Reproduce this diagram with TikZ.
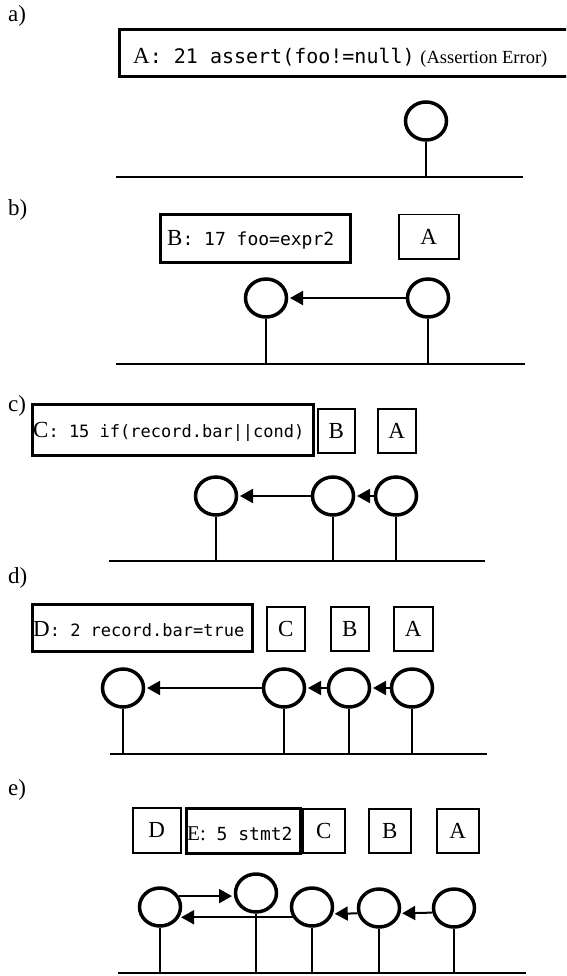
\documentclass[tikz,border=0pt]{standalone}
\usepackage{fontspec}
\setmainfont{Liberation Serif}
\newfontfamily\codefont{DejaVu Sans Mono}
\usetikzlibrary{arrows.meta,shapes.geometric,calc}

\newcommand{\fs}[1]{\fontsize{#1}{#1}\selectfont}

\tikzset{
  boldbox/.style={draw, line width=3pt, inner sep=0pt, anchor=north west},
  thinbox/.style={draw, line width=1.5pt, inner sep=0pt, anchor=north west, font=\fs{23}},
  txt/.style={inner sep=0pt, anchor=base west},
  tag/.style={inner sep=0pt, anchor=base west, font=\fs{23}},
  ring/.style={draw, ellipse, line width=3.5pt, minimum width=41pt, minimum height=38pt, inner sep=0pt},
  stem/.style={line width=2pt},
  ground/.style={line width=2.5pt},
  link/.style={line width=2pt, shorten >=1.75pt, -{Triangle[length=13pt,width=14pt]}},
}

\begin{document}
\begin{tikzpicture}[x=1pt,y=-1pt]
\useasboundingbox (0,0) rectangle (566,976);
\clip (0,0) rectangle (566,976);

% ---------------- a) ----------------
\node[tag] (la) at (8,22) {a)};
\node[boldbox, minimum width=470pt, minimum height=47pt] (boxA) at (118,28) {};
\node[txt, font=\fs{23}] (tA) at (133,64) {A{\codefont\fs{20}: 21 assert(foo!=null)} {\fs{18.5}(Assertion Error)}};
\node[ring] (a1) at (426,121) {};
\coordinate (aL) at (116,177);
\coordinate (aR) at (523,177);
\draw[ground] (aL) -- (aR);
\draw[stem] (a1.south) -- (a1.south |- aL);

% ---------------- b) ----------------
\node[tag] (lb) at (8,216) {b)};
\node[boldbox, minimum width=190pt, minimum height=48pt] (boxB) at (159,213) {};
\node[txt, font=\fs{23}] (tB) at (167,246) {B{\codefont\fs{18}: 17 foo=expr2}};
\node[thinbox, minimum width=60pt, minimum height=44pt] (bA) at (398,214) {A};
\node[ring] (b1) at (266,298) {};
\node[ring] (b2) at (428,298) {};
\coordinate (bL) at (116,364);
\coordinate (bR) at (525,364);
\draw[ground] (bL) -- (bR);
\draw[stem] (b1.south) -- (b1.south |- bL);
\draw[stem] (b2.south) -- (b2.south |- bL);
\draw[link] (b2.west) -- (b1.east);

% ---------------- c) ----------------
\node[tag] (lc) at (8,411) {c)};
\node[boldbox, minimum width=281pt, minimum height=51pt] (boxC) at (31,403) {};
\node[txt, font=\fs{23}] (tC) at (33,437) {C{\codefont\fs{17}: 15 if(record.bar||cond)}};
\node[thinbox, minimum width=37pt, minimum height=44pt] (cB) at (317,408) {B};
\node[thinbox, minimum width=38pt, minimum height=44pt] (cA) at (377,408) {A};
\node[ring] (c1) at (216,496) {};
\node[ring] (c2) at (333,496) {};
\node[ring] (c3) at (396,496) {};
\coordinate (cL) at (109,561);
\coordinate (cR) at (485,561);
\draw[ground] (cL) -- (cR);
\foreach \n in {c1,c2,c3} \draw[stem] (\n.south) -- (\n.south |- cL);
\draw[link] (c2.west) -- (c1.east);
\draw[link] (c3.west) -- (c2.east);

% ---------------- d) ----------------
\node[tag] (ld) at (8,583) {d)};
\node[boldbox, minimum width=220pt, minimum height=47pt] (boxD) at (31,603) {};
\node[txt, font=\fs{23}] (tD) at (33,636) {D{\codefont\fs{17}: 2 record.bar=true}};
\node[thinbox, minimum width=38pt, minimum height=44pt] (dC) at (266,606) {C};
\node[thinbox, minimum width=38pt, minimum height=44pt] (dB) at (330,606) {B};
\node[thinbox, minimum width=39pt, minimum height=44pt] (dA) at (393,606) {A};
\node[ring] (d1) at (123,688) {};
\node[ring] (d2) at (284,688) {};
\node[ring] (d3) at (349,688) {};
\node[ring] (d4) at (412,688) {};
\coordinate (dL) at (110,754);
\coordinate (dR) at (487,754);
\draw[ground] (dL) -- (dR);
\foreach \n in {d1,d2,d3,d4} \draw[stem] (\n.south) -- (\n.south |- dL);
\draw[link] (d2.west) -- (d1.east);
\draw[link] (d3.west) -- (d2.east);
\draw[link] (d4.west) -- (d3.east);

% ---------------- e) ----------------
\node[tag] (le) at (8,795) {e)};
\node[thinbox, minimum width=48pt, minimum height=45pt] (eD) at (132,807) {D};
\node[boldbox, minimum width=114pt, minimum height=45pt] (boxE) at (185,807) {};
\node[txt, font=\fs{21}] (tE) at (187,840) {E:{\codefont\fs{18} 5 stmt2}};
\node[thinbox, minimum width=42pt, minimum height=44pt] (eC) at (302,808) {C};
\node[thinbox, minimum width=42pt, minimum height=44pt] (eB) at (368,808) {B};
\node[thinbox, minimum width=42pt, minimum height=44pt] (eA) at (436,808) {A};
\node[ring] (e1) at (160,907) {};
\node[ring] (e2) at (256,893) {};
\node[ring] (e3) at (312,907) {};
\node[ring] (e4) at (379,908) {};
\node[ring] (e5) at (454,908) {};
\coordinate (eL) at (118,973);
\coordinate (eR) at (526,973);
\draw[ground] (eL) -- (eR);
\foreach \n in {e1,e2,e3,e4,e5} \draw[stem] (\n.south) -- (\n.south |- eL);
\draw[link] (e1.30) -- (e1.30 -| e2.west);
\draw[link] (e3.208) -- (e1.-28 |- e3.208);
\draw[link] (e4.194) -- (e3.-18);
\draw[link] (e5.192) -- (e4.-14);
\end{tikzpicture}
\end{document}
